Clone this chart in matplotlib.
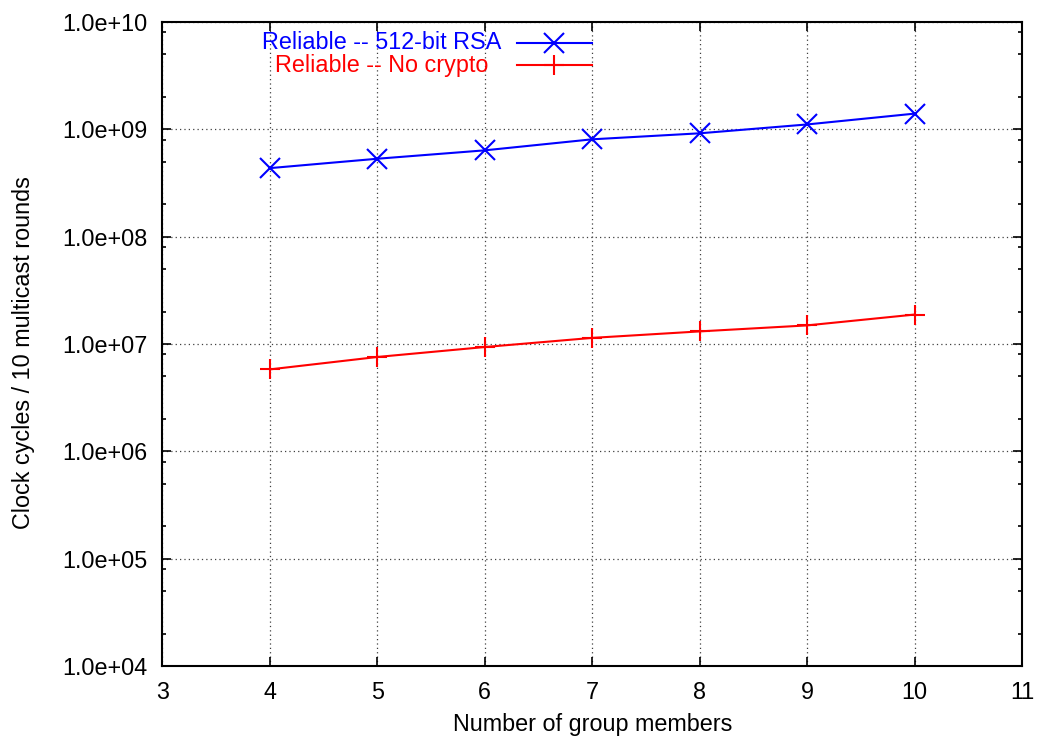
import numpy as np
import matplotlib
matplotlib.use('Agg')
import matplotlib.pyplot as plt
from matplotlib.ticker import FuncFormatter, LogLocator, NullLocator

plt.rcParams['font.family'] = ['Liberation Sans', 'DejaVu Sans']

# data
members = [4, 5, 6, 7, 8, 9, 10]
rsa_cycles = [4.35e8, 5.32e8, 6.37e8, 8.07e8, 9.18e8, 1.11e9, 1.40e9]
nocrypto_cycles = [5.8e6, 7.57e6, 9.37e6, 1.14e7, 1.31e7, 1.49e7, 1.88e7]
series_labels = ['Reliable -- 512-bit RSA', 'Reliable -- No crypto']
xticks = [3, 4, 5, 6, 7, 8, 9, 10, 11]

fig = plt.figure(figsize=(10.39, 7.4), dpi=100)
ax = fig.add_axes([0.1564, 0.1, 0.8272, 0.8703])

fs = 16.8
ax.plot(members, rsa_cycles, color='blue', lw=1.5, marker='x', ms=15, mew=1.5)
ax.plot(members, nocrypto_cycles, color='red', lw=1.5, marker='+', ms=15, mew=1.5)

ax.set_yscale('log')
ax.set_xlim(3, 11)
ax.set_ylim(1e4, 1e10)
ax.set_xticks(xticks)
ax.xaxis.set_minor_locator(NullLocator())
ax.yaxis.set_major_locator(LogLocator(base=10, numticks=20))
ax.yaxis.set_minor_locator(LogLocator(base=10, subs=[2, 5, 8], numticks=20))
ax.yaxis.set_major_formatter(FuncFormatter(lambda v, p: '%.1e' % v))

ax.tick_params(which='both', direction='in', top=True, right=True, labelsize=fs, width=1.2)
ax.tick_params(which='major', length=6.5)
ax.tick_params(which='minor', length=3.2)
ax.tick_params(axis='y', pad=11)
ax.tick_params(axis='x', pad=11)
for s in ax.spines.values():
    s.set_linewidth(1.5)

ax.grid(True, which='major', color='0.25', linestyle=(0, (1, 2.5)), linewidth=0.9)

ax.set_xlabel('Number of group members', fontsize=fs, labelpad=6)
ax.set_ylabel('Clock cycles / 10 multicast rounds', fontsize=fs)
ax.yaxis.set_label_coords(-0.148, 0.487)

# gnuplot-style key: centred text, sample line on the right
key_rows = [(series_labels[0], 'blue', 'x', 0.9674), (series_labels[1], 'red', '+', 0.9325)]
for lab, col, mk, yy in key_rows:
    ax.text(0.2548, yy, lab, color=col, fontsize=fs, ha='center', va='center',
            transform=ax.transAxes)
    ax.plot([0.4125, 0.4997], [yy, yy], color=col, lw=1.5, transform=ax.transAxes, clip_on=False)
    ax.plot([0.4555], [yy], color=col, marker=mk, ms=15, mew=1.5, transform=ax.transAxes, clip_on=False)

fig.savefig('out.png', dpi=100)
